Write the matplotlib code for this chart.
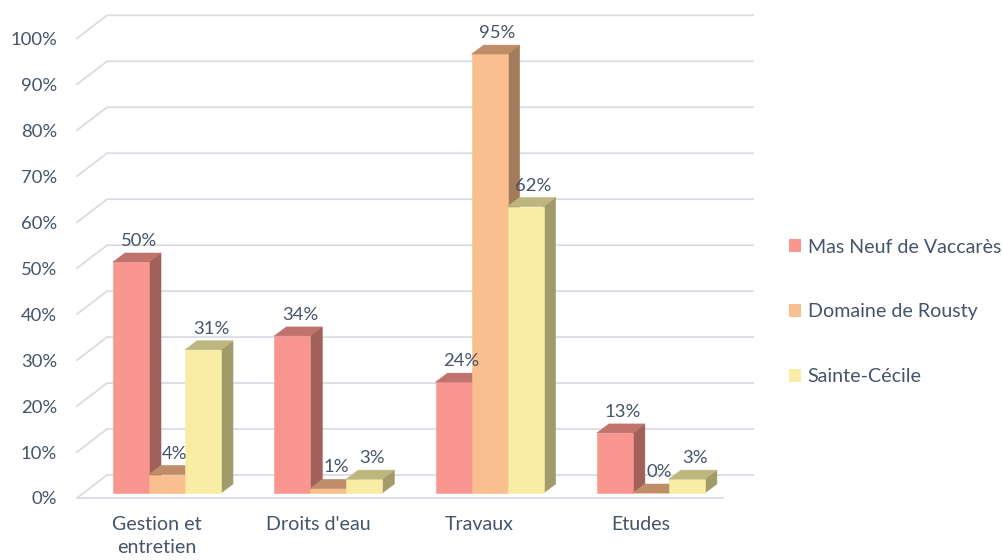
import matplotlib
matplotlib.use("Agg")
import matplotlib.pyplot as plt
from matplotlib.patches import Polygon, Patch

# ---------------- data ----------------
categories = ["Gestion et\nentretien", "Droits d'eau", "Travaux", "Etudes"]
series_names = ["Mas Neuf de Vaccarès", "Domaine de Rousty", "Sainte-Cécile"]
mas_neuf = [50, 34, 24, 13]
rousty = [4, 1, 95, 0]
sainte_cecile = [31, 3, 62, 3]
y_ticks = [0, 10, 20, 30, 40, 50, 60, 70, 80, 90, 100]
y_tick_labels = ["0%", "10%", "20%", "30%", "40%", "50%", "60%", "70%", "80%", "90%", "100%"]

series_values = [mas_neuf, rousty, sainte_cecile]
front_colors = ["#F9968F", "#F9BF8E", "#F9EDA6"]
side_colors = ["#A0615B", "#A37C5A", "#A09B69"]
top_colors = ["#BF736C", "#C08D69", "#BDB77F"]
text_color = "#44546A"
grid_color = "#D9DCE3"
FONT = "Lato"
FS_NUM = 13.3
FS_TXT = 14.1

# ---------------- geometry (pixel scale -> data units) ----------------
W, H = 1002, 560
fig = plt.figure(figsize=(W / 100, H / 100), dpi=100)
ax = fig.add_axes([0, 0, 1, 1])
GX = 161.3   # px per category
GY = 4.62    # px per percentage point
X0 = 167.0   # px of first category centre
Y0 = 493.0   # px of the zero level (bar bottoms)
ax.set_xlim(-X0 / GX, (W - X0) / GX)
ax.set_ylim((Y0 - H) / GY, Y0 / GY)
ax.axis("off")


def ux(p):
    return p / GX


def uy(p):
    return p / GY


bw = ux(36)                   # bar width
bdx, bdy = ux(12), uy(9)      # bar depth offset
n_cat = len(categories)

# floor / wall geometry
floor_front_y = -uy(5)
wall_dy = uy(23)
left_front = ux(77 - X0)
left_back = ux(107 - X0)
right_back = ux(753 - X0)
right_front = ux(723 - X0)
yscale = 0.995

# gridlines (wall diagonals + back lines) and y labels
for t, lab in zip(y_ticks, y_tick_labels):
    yf = floor_front_y + t * yscale
    yb = floor_front_y + wall_dy + t * yscale
    ax.plot([left_front, left_back, right_back], [yf, yb, yb],
            color=grid_color, lw=1.3, zorder=1, solid_joinstyle="miter")
    ax.text(ux(57 - X0), yf - uy(1.5), lab,
            ha="right", va="center", fontsize=FS_NUM, color=text_color,
            family=FONT)
# floor front edge
ax.plot([left_front, right_front], [floor_front_y, floor_front_y],
        color=grid_color, lw=1.3, zorder=1)

# ---------------- bars ----------------
z = 10
for g in range(n_cat):
    for k, vals in enumerate(series_values):
        h = vals[g]
        x0 = g + (k - 1) * bw - bw / 2
        side = [(x0 + bw, 0), (x0 + bw + bdx, bdy), (x0 + bw + bdx, h + bdy), (x0 + bw, h)]
        front = [(x0, 0), (x0 + bw, 0), (x0 + bw, h), (x0, h)]
        top = [(x0, h), (x0 + bw, h), (x0 + bw + bdx, h + bdy), (x0 + bdx, h + bdy)]
        for poly, col in ((side, side_colors[k]), (front, front_colors[k]), (top, top_colors[k])):
            ax.add_patch(Polygon(poly, closed=True, facecolor=col, edgecolor=col,
                                 lw=0.4, zorder=z))
            z += 1
        ax.text(x0 + bw / 2 + ux(8), h + bdy + uy(7), f"{h}%",
                ha="center", va="baseline", fontsize=FS_NUM, color=text_color,
                family=FONT, zorder=200)

# category labels
for g, lab in enumerate(categories):
    ax.text(g - ux(10), uy(Y0 - 516), lab, ha="center", va="top",
            fontsize=FS_TXT, color=text_color, family=FONT, linespacing=1.45)

# legend
handles = [Patch(facecolor=c, edgecolor="none") for c in front_colors]
leg = ax.legend(handles, series_names, loc="center left",
                bbox_to_anchor=(789 / W, 1 - 312 / H), frameon=False,
                labelspacing=2.45, handlelength=0.62,
                handleheight=0.62, handletextpad=0.33, borderpad=0,
                borderaxespad=0, prop={"family": FONT, "size": FS_TXT})
for t in leg.get_texts():
    t.set_color(text_color)

fig.savefig("out.png", dpi=100)
